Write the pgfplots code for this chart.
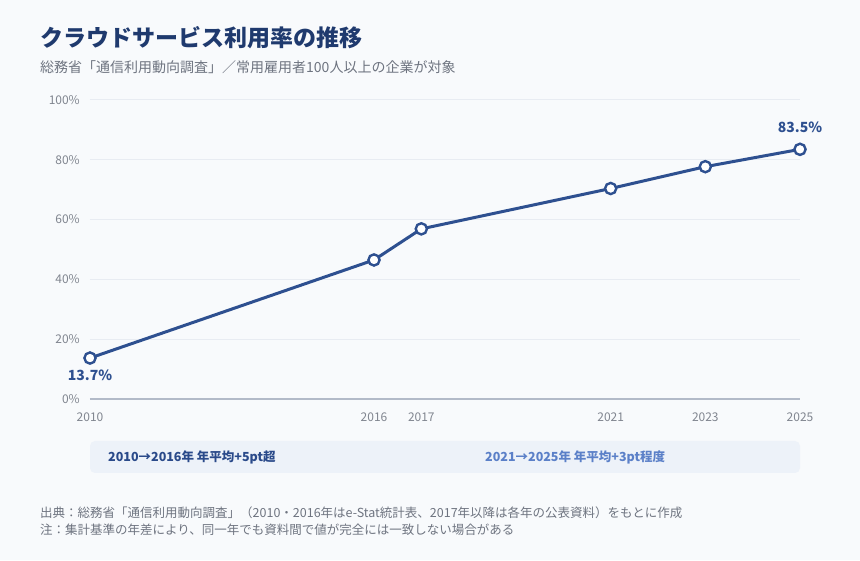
\documentclass[border=0pt]{standalone}
\usepackage{fontspec}
\usepackage{pgfplots}
\pgfplotsset{compat=1.18}
\setmainfont{Noto Sans CJK JP}

\definecolor{bgcol}{HTML}{F8FAFC}
\definecolor{titlecol}{HTML}{1F3A6E}
\definecolor{subcol}{HTML}{6E7480}
\definecolor{tickcol}{HTML}{80858F}
\definecolor{gridcol}{HTML}{E8ECF2}
\definecolor{axiscol}{HTML}{B2BAC8}
\definecolor{linecol}{HTML}{2E5090}
\definecolor{boxcol}{HTML}{EDF2F9}
\definecolor{boxdark}{HTML}{2A4A8A}
\definecolor{boxlight}{HTML}{5B80C8}

\begin{document}
\begin{tikzpicture}[x=1pt,y=1pt]
\fill[bgcol] (0,0) rectangle (860,560);
\useasboundingbox (0,0) rectangle (860,560);

% title and subtitle
\node[anchor=west, inner sep=0pt, text=titlecol, font=\fontsize{23}{26}\selectfont\bfseries]
  at (40,522) {クラウドサービス利用率の推移};
\node[anchor=west, inner sep=0pt, text=subcol, font=\fontsize{14}{16}\selectfont]
  at (40,493) {総務省「通信利用動向調査」／常用雇用者100人以上の企業が対象};

% summary box
\fill[boxcol, rounded corners=5pt] (90,87) rectangle (800,119);
\node[anchor=west, inner sep=0pt, text=boxdark, font=\fontsize{12.5}{15}\selectfont\bfseries]
  at (108,103) {2010→2016年 年平均+5pt超};
\node[anchor=west, inner sep=0pt, text=boxlight, font=\fontsize{12.5}{15}\selectfont\bfseries]
  at (485,103) {2021→2025年 年平均+3pt程度};

% notes
\node[anchor=west, inner sep=0pt, text=subcol, font=\fontsize{12.5}{15}\selectfont]
  at (40,47) {出典：総務省「通信利用動向調査」（2010・2016年はe-Stat統計表、2017年以降は各年の公表資料）をもとに作成};
\node[anchor=west, inner sep=0pt, text=subcol, font=\fontsize{12.5}{15}\selectfont]
  at (40,30) {注：集計基準の年差により、同一年でも資料間で値が完全には一致しない場合がある};

\begin{axis}[
    at={(90pt,161pt)}, anchor=south west,
    scale only axis, width=710pt, height=299pt,
    xmin=2010, xmax=2025, ymin=0, ymax=100,
    clip=false,
    axis line style={draw=none},
    major tick length=0pt,
    tick style={draw=none},
    xtick={2010,2016,2017,2021,2023,2025},
    xticklabels={2010,2016,2017,2021,2023,2025},
    ytick={20,40,60,80,100},
    yticklabels={20\%,40\%,60\%,80\%,100\%},
    extra y ticks={0},
    extra y tick labels={0\%},
    extra y tick style={grid style={color=axiscol, line width=1.5pt}},
    ymajorgrids,
    grid style={color=gridcol, line width=1pt},
    tick label style={text=tickcol, font=\fontsize{12}{14}\selectfont, inner sep=0pt},
    yticklabel style={anchor=east, xshift=-10pt},
    xticklabel style={anchor=north, yshift=-14pt},
  ]
  \addplot[color=linecol, line width=3pt, mark=*, mark size=5.6pt,
           mark options={fill=white, draw=linecol, line width=2.4pt}]
    coordinates {
      (2010,13.7)
      (2016,46.5)
      (2017,56.9)
      (2021,70.4)
      (2023,77.7)
      (2025,83.5)};
  \node[text=linecol, font=\fontsize{14}{16}\selectfont\bfseries, yshift=22pt]
    at (axis cs:2025,83.5) {83.5\%};
  \node[text=linecol, font=\fontsize{14}{16}\selectfont\bfseries, yshift=-17pt]
    at (axis cs:2010,13.7) {13.7\%};
\end{axis}
\end{tikzpicture}
\end{document}
